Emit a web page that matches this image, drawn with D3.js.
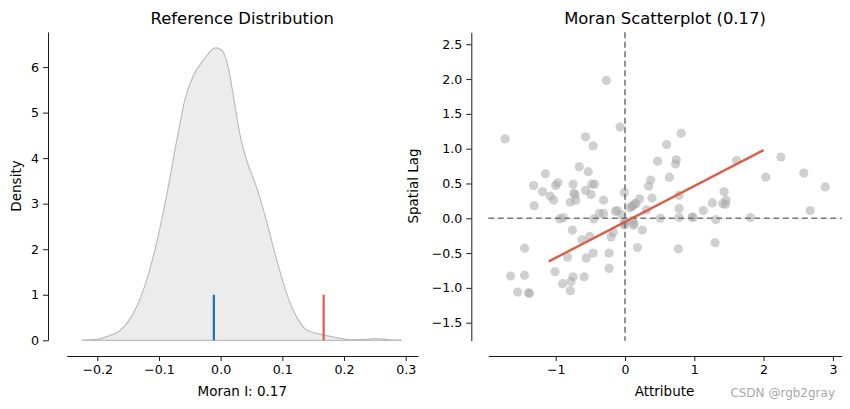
<!DOCTYPE html>
<html><head><meta charset="utf-8">
<script src="https://cdn.jsdelivr.net/npm/d3@7"></script>
<style>
body{margin:0;background:#fff}
text{font-family:"DejaVu Sans",sans-serif}
</style>
</head><body>
<svg id="c" width="850" height="409"></svg>
<script>
// ---- Left panel: reference distribution (KDE of permuted Moran's I) ----
const kdeX = [-0.225,-0.201,-0.185,-0.166,-0.152,-0.136,-0.120,-0.104,-0.088,-0.071,-0.058,-0.044,-0.028,-0.008,0.002,0.012,0.020,0.031,0.042,0.058,0.074,0.091,0.107,0.123,0.139,0.166,0.188,0.209,0.236,0.252,0.274,0.294];
const kdeY = [0.00,0.02,0.08,0.19,0.37,0.74,1.32,2.13,3.15,4.40,5.28,5.82,6.15,6.42,6.37,6.01,5.42,4.54,3.96,3.37,2.64,1.76,1.03,0.52,0.23,0.12,0.06,0.01,0.02,0.04,0.01,0.00];
const expectedI = -0.011;
const observedI = 0.167;
const refLineHeight = 1;
const leftXTicks = [-0.2,-0.1,0.0,0.1,0.2,0.3];
const leftYTicks = [0,1,2,3,4,5,6];

// ---- Right panel: Moran scatterplot ----
const attrX = [-1.73,-0.27,-0.07,-0.57,-0.46,0.81,0.60,0.47,0.74,0.73,0.64,1.61,2.25,2.03,2.58,2.89,2.67,1.81,1.43,1.46,1.41,1.45,1.26,1.13,1.31,1.30,0.97,0.98,0.78,0.78,0.78,0.77,0.51,0.39,0.37,0.34,0.21,0.16,0.11,0.07,0.25,0.18,0.13,0.11,-0.01,-0.01,-0.05,-0.14,-0.11,-0.31,-0.31,-0.37,-0.17,-0.20,-0.23,-0.23,-0.46,-0.56,-0.51,-0.62,-0.59,-0.75,-0.78,-0.79,-0.90,-1.01,-0.83,-0.76,-0.94,-0.89,-0.45,-1.45,-1.65,-1.45,-1.55,-1.39,-1.38,-1.31,-1.32,-1.15,-1.19,-1.08,-1.03,-1.00,-0.97,-0.75,-0.74,-0.72,-0.79,-0.71,-0.66,-0.53,-0.57,-0.49,-0.48,-0.44,0.00,0.12,-0.01,0.14,0.10,0.31];
const lagY = [1.14,1.98,1.31,1.17,1.04,1.22,1.06,0.82,0.84,0.78,0.59,0.83,0.88,0.59,0.65,0.45,0.11,0.01,0.38,0.26,0.21,0.20,0.22,0.11,-0.02,-0.35,0.02,0.01,0.14,0.01,0.33,-0.44,0.00,0.29,0.55,0.46,0.28,0.21,0.18,0.15,-0.17,-0.42,-0.08,-0.03,0.37,-0.08,0.05,0.10,0.11,0.26,0.07,0.07,-0.20,-0.27,-0.50,-0.72,-0.50,-0.57,-0.26,-0.31,-0.84,-0.84,-0.91,-1.04,-0.94,-0.77,-0.56,-0.17,-0.01,0.01,-0.01,-0.43,-0.83,-0.82,-1.06,-1.07,-1.08,0.18,0.47,0.64,0.38,0.32,0.26,0.47,0.51,0.49,0.36,0.34,0.23,0.26,0.74,0.67,0.40,0.34,0.49,0.49,-0.05,-0.10,-0.10,0.21,0.17,0.12];
const regX = [-1.1, 2.0];
const regY = [-0.62, 0.98];
const rightXTicks = [-1,0,1,2,3];
const rightYTicks = [-1.5,-1.0,-0.5,0.0,0.5,1.0,1.5,2.0,2.5];

const svg = d3.select("#c");
const TICK_FS = "12.6px", LABEL_FS = "13.5px", TITLE_FS = "16.4px";

function styleAxis(g){
  g.selectAll("path").attr("stroke","#000").attr("stroke-width",0.9);
  g.selectAll("line").attr("stroke","#000").attr("stroke-width",0.9);
  g.selectAll("text").attr("font-family","DejaVu Sans, sans-serif").attr("font-size",TICK_FS).attr("fill","#000");
  g.attr("font-family",null).attr("font-size",null);
}

// ===== Left =====
const xL = d3.scaleLinear().domain([-0.2496,0.3200]).range([66.7,418]);
const yL = d3.scaleLinear().domain([0,6.77]).range([340.3,32]);
const kde = kdeX.map((x,i)=>[x,kdeY[i]]);
svg.append("path").datum(kde)
  .attr("d", d3.area().x(d=>xL(d[0])).y0(yL(0)).y1(d=>yL(d[1])).curve(d3.curveMonotoneX))
  .attr("fill","#ececec").attr("stroke","none");
svg.append("path").datum(kde)
  .attr("d", d3.line().x(d=>xL(d[0])).y(d=>yL(d[1])).curve(d3.curveMonotoneX))
  .attr("fill","none").attr("stroke","#bdbdbd").attr("stroke-width",1.2);
svg.append("line").attr("x1",xL(kdeX[0])).attr("x2",xL(kdeX[kdeX.length-1]))
  .attr("y1",yL(0)).attr("y2",yL(0)).attr("stroke","#bdbdbd").attr("stroke-width",1.2);
svg.append("line").attr("x1",xL(expectedI)).attr("x2",xL(expectedI))
  .attr("y1",yL(0)).attr("y2",yL(refLineHeight)).attr("stroke","#1f6fb4").attr("stroke-width",2.2);
svg.append("line").attr("x1",xL(observedI)).attr("x2",xL(observedI))
  .attr("y1",yL(0)).attr("y2",yL(refLineHeight)).attr("stroke","#d95f4b").attr("stroke-width",2.2);

svg.append("g").attr("transform","translate(0,356)")
  .call(d3.axisBottom(xL).tickValues(leftXTicks).tickFormat(d3.format(".1f")).tickSize(5).tickSizeOuter(0).tickPadding(4))
  .call(styleAxis);
svg.append("g").attr("transform","translate(48,0)")
  .call(d3.axisLeft(yL).tickValues(leftYTicks).tickFormat(d3.format("d")).tickSize(5).tickSizeOuter(0).tickPadding(4))
  .call(styleAxis);

svg.append("text").attr("x",242.3).attr("y",24).attr("text-anchor","middle").attr("font-size",TITLE_FS).text("Reference Distribution");
svg.append("text").attr("x",242.3).attr("y",396).attr("text-anchor","middle").attr("font-size",LABEL_FS).text("Moran I: 0.17");
svg.append("text").attr("transform","translate(21,186) rotate(-90)").attr("text-anchor","middle").attr("font-size",LABEL_FS).text("Density");

// ===== Right =====
const xR = d3.scaleLinear().domain([-1.973,3.127]).range([488.3,841.7]);
const yR = d3.scaleLinear().domain([-1.759,2.672]).range([340.7,32.3]);

svg.append("g").selectAll("circle").data(attrX.map((x,i)=>[x,lagY[i]])).join("circle")
  .attr("cx",d=>xR(d[0])).attr("cy",d=>yR(d[1])).attr("r",4.6)
  .attr("fill","#aaaaaa").attr("fill-opacity",0.55);

svg.append("line").attr("x1",xR(0)).attr("x2",xR(0)).attr("y1",yR.range()[1]).attr("y2",yR.range()[0])
  .attr("stroke","#777").attr("stroke-width",1.6).attr("stroke-dasharray","6,3.5");
svg.append("line").attr("x1",xR.range()[0]).attr("x2",xR.range()[1]).attr("y1",yR(0)).attr("y2",yR(0))
  .attr("stroke","#777").attr("stroke-width",1.6).attr("stroke-dasharray","6,3.5");

svg.append("path").datum(regX.map((x,i)=>[x,regY[i]]))
  .attr("d", d3.line().x(d=>xR(d[0])).y(d=>yR(d[1])))
  .attr("stroke","#d95f4b").attr("stroke-width",2.4).attr("fill","none");

svg.append("g").attr("transform","translate(0,356)")
  .call(d3.axisBottom(xR).tickValues(rightXTicks).tickFormat(d3.format("d")).tickSize(5).tickSizeOuter(0).tickPadding(4))
  .call(styleAxis);
svg.append("g").attr("transform","translate(471.3,0)")
  .call(d3.axisLeft(yR).tickValues(rightYTicks).tickFormat(d3.format(".1f")).tickSize(5).tickSizeOuter(0).tickPadding(4))
  .call(styleAxis);

svg.append("text").attr("x",665).attr("y",24).attr("text-anchor","middle").attr("font-size",TITLE_FS).text("Moran Scatterplot (0.17)");
svg.append("text").attr("x",664.5).attr("y",396).attr("text-anchor","middle").attr("font-size",LABEL_FS).text("Attribute");
svg.append("text").attr("transform","translate(418,186) rotate(-90)").attr("text-anchor","middle").attr("font-size",LABEL_FS).text("Spatial Lag");

svg.append("text").attr("x",835).attr("y",397).attr("text-anchor","end").attr("font-size","12px")
  .attr("font-family","Liberation Sans, Arial, sans-serif").attr("fill","#a8a8a8").text("CSDN @rgb2gray");
</script>
</body></html>
